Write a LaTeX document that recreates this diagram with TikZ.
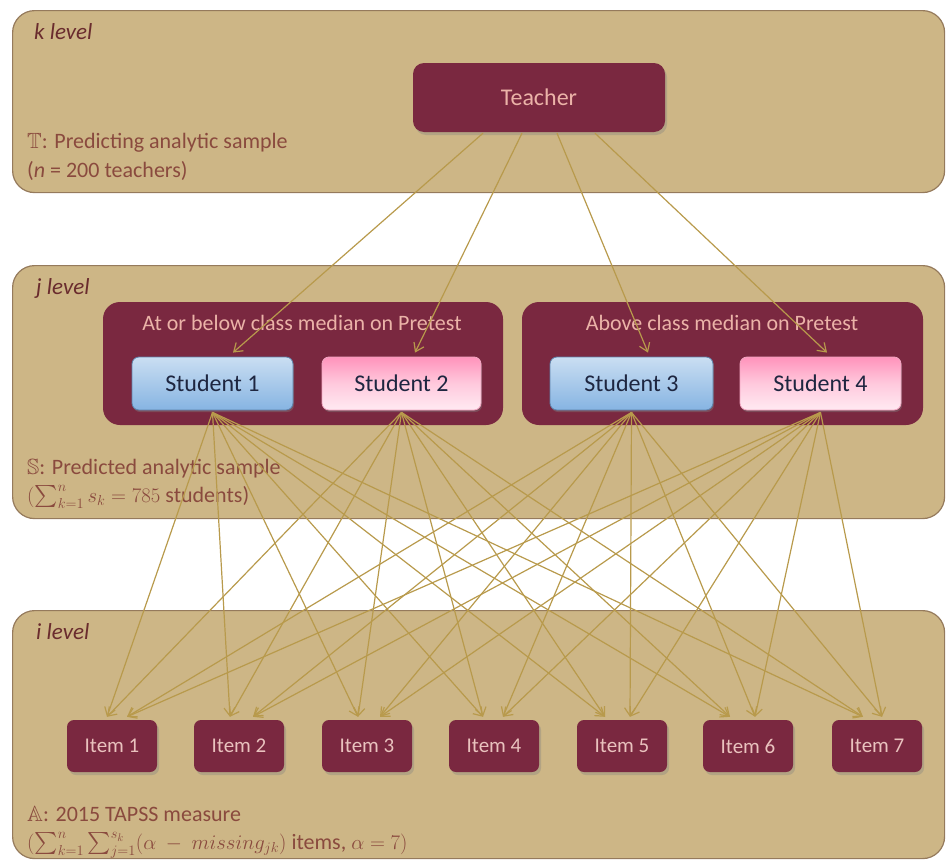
\documentclass[tikz,border=0pt]{standalone}
\usepackage{amssymb}
\usepackage{fontspec}
\setmainfont{Carlito}
\usetikzlibrary{arrows.meta,calc,shadows}
\newcommand\mytightlines{\lineskiplimit=-100pt\relax\lineskip=0pt\relax}
\definecolor{tanfill}{HTML}{CDB686}
\definecolor{tanedge}{HTML}{957A5C}
\definecolor{maroon}{HTML}{7A2840}
\definecolor{goldline}{HTML}{B89A4C}
\definecolor{labeltxt}{HTML}{8A4A3E}
\definecolor{leveltxt}{HTML}{6A2C2E}
\definecolor{pinktxt}{HTML}{EBB3A8}
\definecolor{itemtxt}{HTML}{E9C2BE}
\definecolor{navytxt}{HTML}{1E2640}
\definecolor{bluetop}{HTML}{CADEF2}
\definecolor{bluebot}{HTML}{86B4E2}
\definecolor{blueedge}{HTML}{5F82AA}
\definecolor{pinktop}{HTML}{FF93BB}
\definecolor{pinkmid}{HTML}{FFC9DD}
\definecolor{pinkbot}{HTML}{FFEAF2}
\definecolor{pinkedge}{HTML}{F2A6C2}
\tikzset{
  panel/.style={draw=tanedge, line width=1.2pt, fill=tanfill, rounded corners=22pt, anchor=north west, inner sep=0pt},
  darkbox/.style={fill=maroon, draw=none, inner sep=0pt, drop shadow={shadow xshift=2pt, shadow yshift=-3pt, opacity=0.35}},
  teacherbox/.style={darkbox, rounded corners=11pt, minimum width=252pt, minimum height=69pt, text=pinktxt, font=\fontsize{24}{28}\selectfont},
  groupbox/.style={fill=maroon, draw=none, rounded corners=17pt, minimum width=400pt, minimum height=123pt, inner sep=0pt},
  grouplabel/.style={text=pinktxt, font=\fontsize{22}{26}\selectfont, inner sep=0pt},
  bluestudent/.style={draw=blueedge, line width=0.8pt, top color=bluetop, bottom color=bluebot, rounded corners=7pt, minimum width=161pt, minimum height=53pt, text=navytxt, font=\fontsize{24}{28}\selectfont, drop shadow={shadow xshift=1pt, shadow yshift=-2pt, opacity=0.4}},
  pinkstudent/.style={draw=pinkedge, line width=0.8pt, top color=pinktop, bottom color=pinkbot, middle color=pinkmid, rounded corners=7pt, minimum width=160pt, minimum height=53pt, text=navytxt, font=\fontsize{24}{28}\selectfont, drop shadow={shadow xshift=1pt, shadow yshift=-2pt, opacity=0.4}},
  itembox/.style={darkbox, rounded corners=7pt, minimum width=90pt, minimum height=52pt, text=itemtxt, font=\fontsize{21}{25}\selectfont},
  levellabel/.style={anchor=west, inner sep=0pt, text=leveltxt, font=\fontsize{23}{27}\selectfont\itshape},
  infolabel/.style={anchor=base west, inner sep=0pt, align=left, text=labeltxt, font=\fontsize{22}{28}\selectfont\mytightlines},
  conn/.style={draw=goldline, line width=1.2pt, -{Straight Barb[length=8pt, width=11pt, line width=1.2pt]}}
}
\begin{document}
\begin{tikzpicture}[x=1pt, y=-1pt]
\useasboundingbox (0,0) rectangle (950,862);
% panels
\node[panel, minimum width=932pt, minimum height=182pt] (kpanel) at (12,10) {};
\node[panel, minimum width=932pt, minimum height=253pt] (jpanel) at (12,265) {};
\node[panel, minimum width=932pt, minimum height=248pt] (ipanel) at (12,610) {};
% level labels
\node[levellabel] (klev) at (34,32) {k level};
\node[levellabel] (jlev) at (36,288) {j level};
\node[levellabel] (ilev) at (36,632) {i level};
% info labels
\node[infolabel, font=\fontsize{22}{29}\selectfont\mytightlines] (tinfo) at (27,177) {$\mathbb{T}$: Predicting analytic sample\\(\textit{n} = 200 teachers)};
\node[infolabel] (sinfo) at (27,502) {$\mathbb{S}$: Predicted analytic sample\\ {$(\textstyle\sum_{k=1}^{n} s_k = 785$ students)}};
\node[infolabel] (ainfo) at (27,849) {$\mathbb{A}$: 2015 TAPSS measure\\ {$(\textstyle\sum_{k=1}^{n}\sum_{j=1}^{s_k}(\alpha\ -\ missing_{jk})$ items, $\alpha = 7)$}};
% teacher
\node[teacherbox] (teacher) at (539,97.5) {Teacher};
% groups
\node[groupbox] (gleft) at (303,363.5) {};
\node[groupbox, minimum width=401pt] (gright) at (722.5,363.5) {};
\node[grouplabel] (gleftlab) at (302,323) {At or below class median on Pretest};
\node[grouplabel] (grightlab) at (722,323) {Above class median on Pretest};
% students
\node[bluestudent] (s1) at (212.5,383.5) {Student 1};
\node[pinkstudent, minimum width=159pt] (s2) at (401.5,383.5) {Student 2};
\node[bluestudent, minimum width=163pt] (s3) at (631.5,383.5) {Student 3};
\node[pinkstudent, minimum width=161pt] (s4) at (820.5,383.5) {Student 4};
% items
\foreach \i/\x in {1/112,2/239,3/367,4/494,5/622,6/748,7/877}{
  \node[itembox] (item\i) at (\x,746) {Item \i};
}
% teacher to students
\foreach \s/\a/\b in {s1/-56/20.5, s2/-17/13.5, s3/18/16.5, s4/56/6.5}{
  \draw[conn] ($(teacher.south)+(\a,1)$) -- ($(\s.north)+(\b,-4)$);
}
% students to items
\foreach \i/\l/\r in {1/-5/15,2/-9/14,3/-9/13,4/-11/9,5/-17/8,6/-18/7,7/-14/5}{
  \draw[conn] ($(s1.south)+(0,2)$) -- ($(item\i.north)+(\l,-3)$);
  \draw[conn] ($(s2.south)+(0,2)$) -- ($(item\i.north)+(\l,-3)$);
  \draw[conn] ($(s3.south)+(0,2)$) -- ($(item\i.north)+(\r,-3)$);
  \draw[conn] ($(s4.south)+(0,2)$) -- ($(item\i.north)+(\r,-3)$);
}
\end{tikzpicture}
\end{document}
